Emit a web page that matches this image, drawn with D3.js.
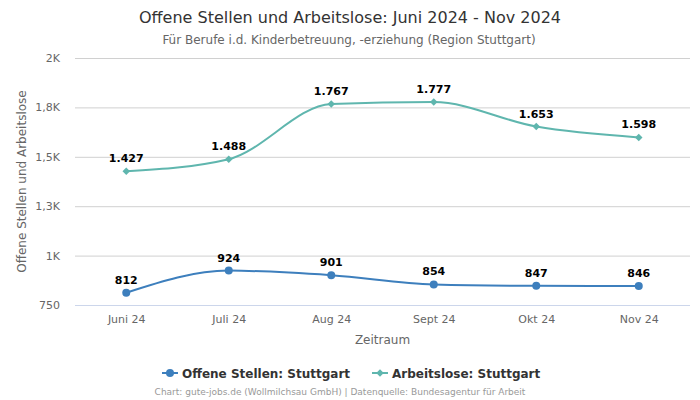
<!DOCTYPE html>
<html><head><meta charset="utf-8">
<script src="https://cdn.jsdelivr.net/npm/d3@7"></script>
<style>body{margin:0;background:#fff}svg{display:block;font-family:"DejaVu Sans",sans-serif}</style>
</head><body><svg id="c" width="700" height="400"></svg>
<script>
const categories = ["Juni 24","Juli 24","Aug 24","Sept 24","Okt 24","Nov 24"];
const offeneStellen = [812, 924, 901, 854, 847, 846];
const arbeitslose = [1427, 1488, 1767, 1777, 1653, 1598];
const yTicks = [750, 1000, 1250, 1500, 1750, 2000];
const yTickLabels = ["750","1K","1,3K","1,5K","1,8K","2K"];
const seriesNames = ["Offene Stellen: Stuttgart","Arbeitslose: Stuttgart"];
const colors = ["#3d7fbd","#5fb6ae"];

const svg = d3.select("#c");
const pL = 75, pR = 690, pT = 58, pB = 305;
const x = d3.scalePoint().domain(categories).range([pL, pR]).padding(0.5);
const y = d3.scaleLinear().domain([750, 2000]).range([pB, pT]);
const fmt = v => v >= 1000 ? d3.format(",")(v).replace(",", ".") : String(v);

svg.append("text").attr("x",350).attr("y",23).attr("text-anchor","middle")
  .attr("font-size",16).attr("fill","#333").text("Offene Stellen und Arbeitslose: Juni 2024 - Nov 2024");
svg.append("text").attr("x",349).attr("y",44).attr("text-anchor","middle")
  .attr("font-size",12).attr("fill","#666").text("Für Berufe i.d. Kinderbetreuung, -erziehung (Region Stuttgart)");

const yAxis = d3.axisLeft(y).tickValues(yTicks).tickFormat((d,i)=>yTickLabels[i]).tickSize(-(pR-pL)).tickPadding(15);
const gy = svg.append("g").attr("transform",`translate(${pL},0)`).call(yAxis);
gy.select(".domain").remove();
gy.selectAll(".tick line").attr("stroke","#d0d0d0");
gy.selectAll(".tick").filter(d=>d===750).select("line").attr("stroke","#ccd6eb");
gy.selectAll(".tick text").attr("fill","#666").attr("font-size",11).attr("font-family","DejaVu Sans");

const xAxis = d3.axisBottom(x).tickSize(0).tickPadding(10);
const gx = svg.append("g").attr("transform",`translate(0,${pB})`).call(xAxis);
gx.select(".domain").remove();
gx.selectAll(".tick text").attr("fill","#666").attr("font-size",11).attr("font-family","DejaVu Sans");

svg.append("text").attr("x",(pL+pR)/2).attr("y",344).attr("text-anchor","middle")
  .attr("font-size",12).attr("fill","#666").text("Zeitraum");
svg.append("text").attr("transform",`translate(26,${(pT+pB)/2}) rotate(-90)`).attr("text-anchor","middle")
  .attr("font-size",12).attr("fill","#666").text("Offene Stellen und Arbeitslose");

const line = d3.line().x((d,i)=>x(categories[i])).y(d=>y(d)).curve(d3.curveMonotoneX);
const series = [offeneStellen, arbeitslose];
series.forEach((s,si)=>{
  svg.append("path").attr("d",line(s)).attr("fill","none").attr("stroke",colors[si]).attr("stroke-width",2);
  const g = svg.append("g");
  s.forEach((v,i)=>{
    const cx = x(categories[i]), cy = y(v);
    if(si===0) g.append("circle").attr("cx",cx).attr("cy",cy).attr("r",4).attr("fill",colors[si]);
    else g.append("path").attr("d",d3.symbol(d3.symbolDiamond2, 36)()).attr("transform",`translate(${cx},${cy})`).attr("fill",colors[si]);
    g.append("text").attr("x",cx).attr("y",cy-9).attr("text-anchor","middle").attr("font-size",11)
      .attr("font-weight","bold").attr("fill","#000").text(fmt(v));
  });
});

const legItems = [{x:162},{x:372}];
legItems.forEach((it,si)=>{
  const g = svg.append("g").attr("transform",`translate(${it.x},373)`);
  g.append("line").attr("x1",0).attr("x2",16).attr("stroke",colors[si]).attr("stroke-width",2);
  if(si===0) g.append("circle").attr("cx",8).attr("r",4).attr("fill",colors[si]);
  else g.append("path").attr("d",d3.symbol(d3.symbolDiamond2,36)()).attr("transform","translate(8,0)").attr("fill",colors[si]);
  g.append("text").attr("x",20).attr("y",4.5).attr("font-size",12).attr("font-weight","bold").attr("fill","#333").text(seriesNames[si]);
});

svg.append("text").attr("x",340).attr("y",395).attr("text-anchor","middle").attr("font-size",9).attr("fill","#999")
  .text("Chart: gute-jobs.de (Wollmilchsau GmbH) | Datenquelle: Bundesagentur für Arbeit");
</script></body></html>
